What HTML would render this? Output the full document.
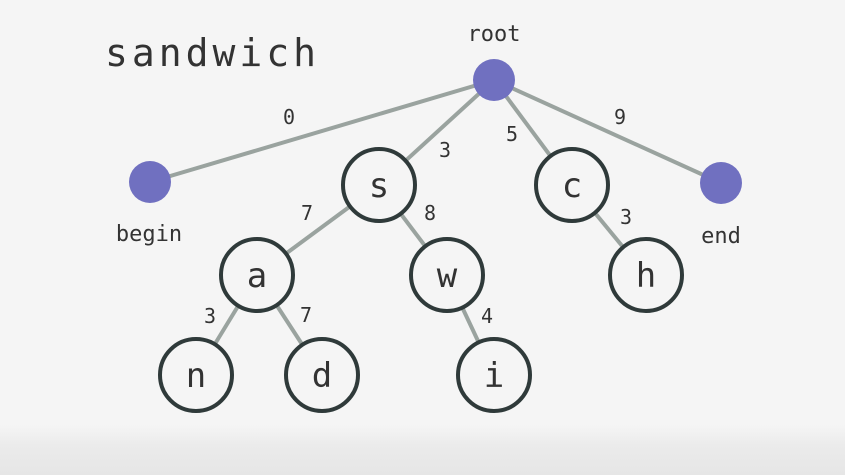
<!DOCTYPE html>
<html><head><style>
html,body{margin:0;padding:0;}
body{width:845px;height:475px;overflow:hidden;background:linear-gradient(#f5f5f5 0,#f5f5f5 425px,#ebebeb 445px,#e6e6e6 475px);}
svg{display:block}
text{font-family:"DejaVu Sans Mono","Liberation Mono",monospace;fill:#333}
</style></head><body>
<svg width="845" height="475" xmlns="http://www.w3.org/2000/svg">
<g stroke="#9aa39f" stroke-width="4" fill="none">
<line x1="494" y1="80" x2="150" y2="182"/>
<line x1="494" y1="80" x2="379" y2="185"/>
<line x1="494" y1="80" x2="572" y2="185"/>
<line x1="494" y1="80" x2="721" y2="183"/>
<line x1="379" y1="185" x2="257" y2="275"/>
<line x1="379" y1="185" x2="447" y2="275"/>
<line x1="572" y1="185" x2="646" y2="275"/>
<line x1="257" y1="275" x2="196" y2="375"/>
<line x1="257" y1="275" x2="322" y2="375"/>
<line x1="447" y1="275" x2="494" y2="375"/>
</g>
<g fill="#7070c0">
<circle cx="494" cy="80" r="21"/>
<circle cx="150" cy="182" r="21"/>
<circle cx="721" cy="183" r="21"/>
</g>
<g fill="#f5f5f5" stroke="#2f3a3a" stroke-width="4">
<circle cx="379" cy="185" r="36"/>
<circle cx="572" cy="185" r="36"/>
<circle cx="257" cy="275" r="36"/>
<circle cx="447" cy="275" r="36"/>
<circle cx="646" cy="275" r="36"/>
<circle cx="196" cy="375" r="36"/>
<circle cx="322" cy="375" r="36"/>
<circle cx="494" cy="375" r="36"/>
</g>
<g font-size="34" text-anchor="middle">
<text x="379" y="197">s</text>
<text x="572" y="197">c</text>
<text x="257" y="287">a</text>
<text x="447" y="287">w</text>
<text x="646" y="287">h</text>
<text x="196" y="387">n</text>
<text x="322" y="387">d</text>
<text x="494" y="387">i</text>
</g>
<text x="105" y="66" font-size="38" style="letter-spacing:4px">sandwich</text>
<g font-size="22" text-anchor="middle">
<text x="494" y="41">root</text>
<text x="149" y="241">begin</text>
<text x="721" y="243">end</text>
</g>
<g font-size="20" text-anchor="middle">
<text x="289" y="124">0</text>
<text x="445" y="157">3</text>
<text x="512" y="141">5</text>
<text x="620" y="124">9</text>
<text x="307" y="220">7</text>
<text x="430" y="220">8</text>
<text x="626" y="224">3</text>
<text x="210" y="323">3</text>
<text x="306" y="322">7</text>
<text x="487" y="323">4</text>
</g>
</svg>
</body></html>
